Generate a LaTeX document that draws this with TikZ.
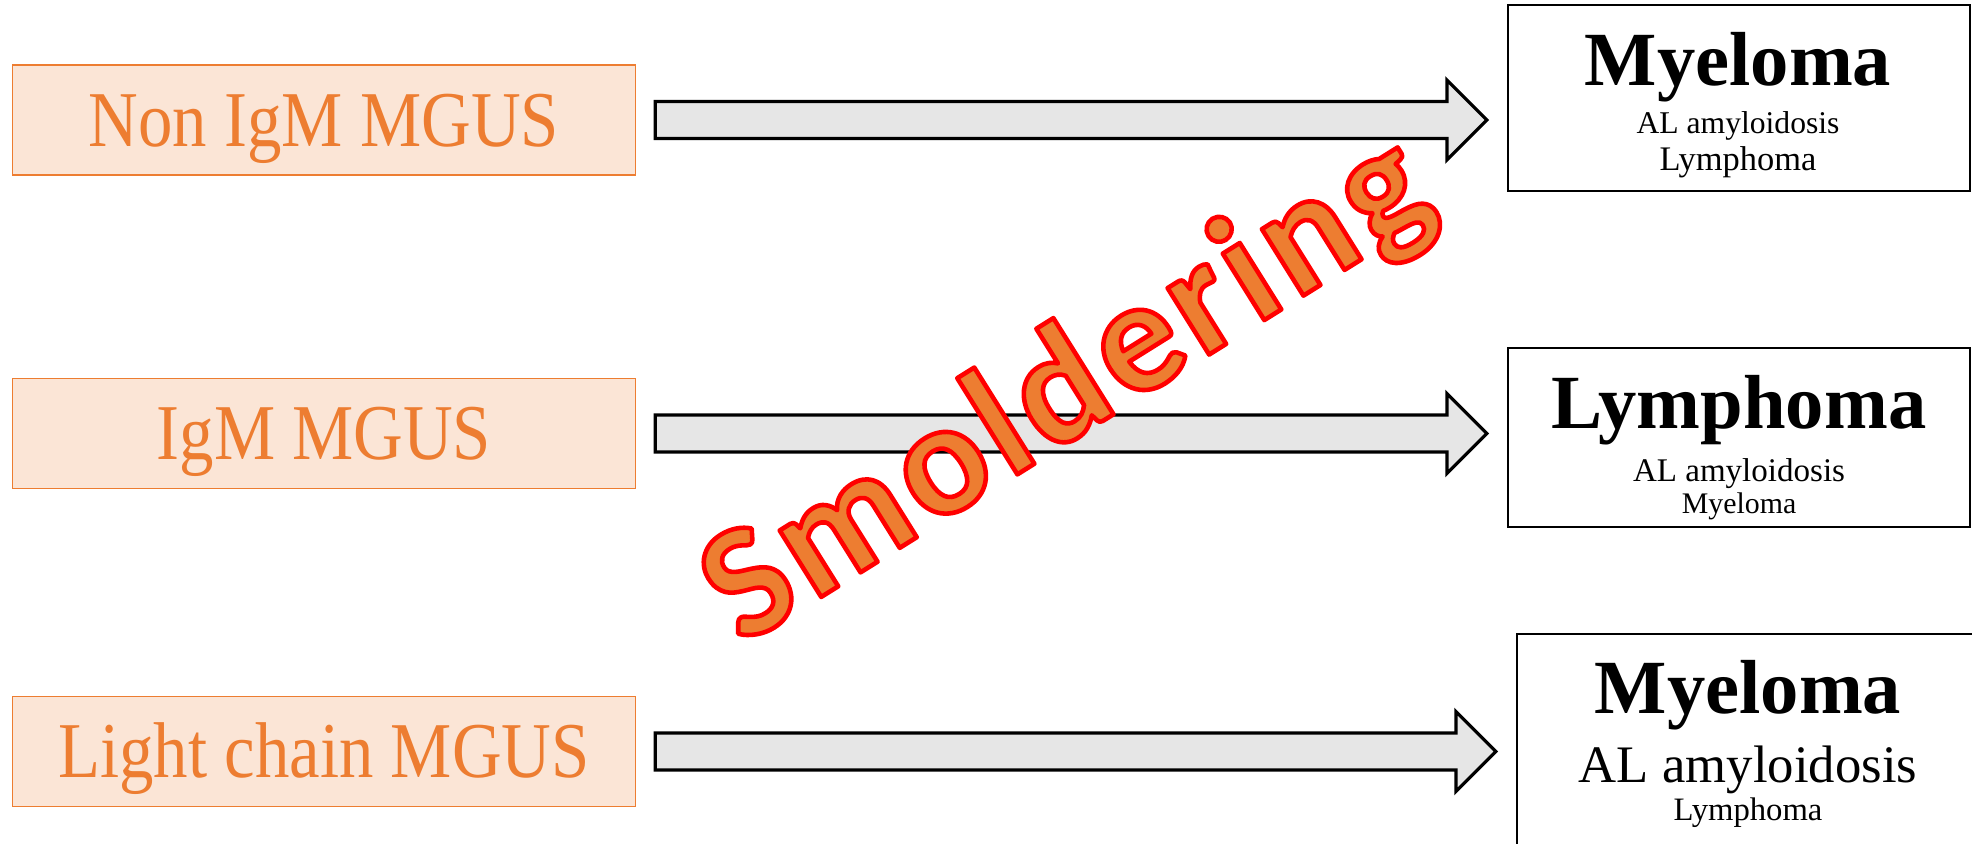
\documentclass[tikz,border=0pt]{standalone}
\usepackage{fontspec}
\setmainfont{Liberation Serif}
\newfontfamily\mgusfont[FakeStretch=0.87]{Liberation Serif}
\newfontfamily\wordartfont[LetterSpace=4]{Carlito}
\usetikzlibrary{positioning,calc}
\definecolor{accent}{RGB}{237,125,49}
\definecolor{accentlight}{RGB}{251,229,214}
\definecolor{arrowgray}{RGB}{230,230,230}
% filled text with a red stroke round each glyph
\newcommand{\redoutline}[1]{\special{pdf:literal direct 1 0 0 RG 1.3 w 1 j 2 Tr}#1\special{pdf:literal direct 0 Tr}}

\begin{document}
\begin{tikzpicture}[
  mgus/.style={draw=accent, fill=accentlight, line width=0.4pt, minimum width=6.23cm, minimum height=1.10cm,
    text=accent, font=\mgusfont\fontsize{22.5}{27}\selectfont, text height=14.9pt, text depth=0pt},
  outcome/.style={draw, line width=0.6pt, minimum width=4.62cm},
  big/.style={anchor=base, font=\fontsize{21.8}{26}\selectfont\bfseries},
  small/.style={anchor=base, font=\fontsize{#1}{#1}\selectfont},
  blockarrow/.style={draw, fill=arrowgray, line width=0.9pt,
    to path={let \p1=(\tikztostart.east), \p2=(\tikztotarget.west) in
      (\x1+0.19cm,\y1+0.185cm) -- (\x2-0.6cm,\y1+0.185cm) -- (\x2-0.6cm,\y1+0.4cm) -- (\x2-0.2cm,\y1)
      -- (\x2-0.6cm,\y1-0.4cm) -- (\x2-0.6cm,\y1-0.185cm) -- (\x1+0.19cm,\y1-0.185cm) -- cycle}}
]
  \clip (0,0) rectangle (19.72,-8.43);

  \node[mgus] (m1) at (3.24,-1.20) {Non IgM MGUS};
  \node[mgus] (m2) at (3.24,-4.335) {IgM MGUS};
  \node[mgus] (m3) at (3.24,-7.515) {Light chain MGUS};

  \node[outcome, minimum height=1.86cm] (o1) at (17.39,-0.98) {};
  \node[outcome, minimum height=1.79cm] (o2) at (17.39,-4.375) {};
  \node[outcome, minimum height=2.30cm] (o3) at (17.48,-7.49) {};

  \node[big] (o1a) at (17.38,-0.85) {Myeloma};
  \node[small=9] (o1b) at (17.38,-1.33) {AL amyloidosis};
  \node[small=9.8] (o1c) at (17.38,-1.70) {Lymphoma};

  \node[big] (o2a) at (17.39,-4.28) {Lymphoma};
  \node[small=9.4] (o2b) at (17.39,-4.81) {AL amyloidosis};
  \node[small=8.5] (o2c) at (17.39,-5.13) {Myeloma};

  \node[big] (o3a) at (17.48,-7.13) {Myeloma};
  \node[small=15] (o3b) at (17.48,-7.82) {AL amyloidosis};
  \node[small=9.3] (o3c) at (17.48,-8.20) {Lymphoma};

  \draw[blockarrow] (m1) to (o1);
  \draw[blockarrow] (m2) to (o2);
  \draw[blockarrow] (m3) to (o3);

  % overlay word
  \node[rotate=32, text=accent, font=\wordartfont\bfseries\fontsize{46}{46}\selectfont] (smolder) at (10.68,-3.92) {\redoutline{Smoldering}};
\end{tikzpicture}
\end{document}
